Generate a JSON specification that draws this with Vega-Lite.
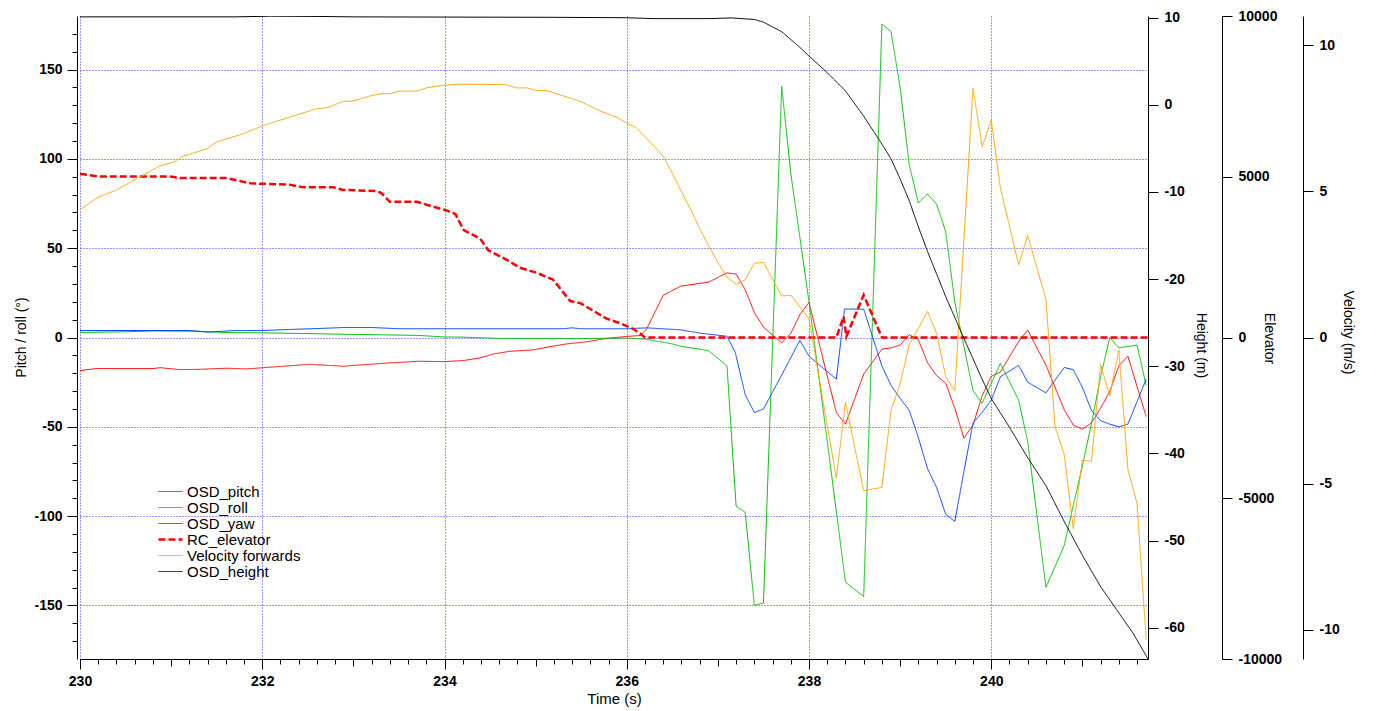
{
  "$schema": "https://vega.github.io/schema/vega-lite/v6.json",
  "width": 1068,
  "height": 643,
  "autosize": {"type": "none"},
  "padding": {"left": 80, "top": 16, "right": 229, "bottom": 52},
  "background": "white",
  "config": {
    "font": "Liberation Sans",
    "view": {"stroke": null},
    "axis": {
      "domainColor": "#000000", "tickColor": "#000000", "domainWidth": 1, "tickWidth": 1,
      "labelFont": "Liberation Sans", "labelFontSize": 14, "labelFontWeight": "bold", "labelColor": "#000000",
      "titleFont": "Liberation Sans", "titleFontSize": 14, "titleFontWeight": "normal", "titleColor": "#000000",
      "grid": false, "gridColor": "#3030ff", "gridDash": [1, 2], "gridWidth": 1
    }
  },
  "datasets": {
    "d": [
      {"t":230,"s":"OSD_pitch","v":-18.5},{"t":230.18,"s":"OSD_pitch","v":-17.4},{"t":230.8,"s":"OSD_pitch","v":-17.4},{"t":230.88,"s":"OSD_pitch","v":-16.9},{"t":231.1,"s":"OSD_pitch","v":-18},{"t":231.32,"s":"OSD_pitch","v":-17.8},{"t":231.61,"s":"OSD_pitch","v":-17.2},{"t":231.83,"s":"OSD_pitch","v":-17.6},{"t":232.01,"s":"OSD_pitch","v":-16.9},{"t":232.23,"s":"OSD_pitch","v":-16.1},{"t":232.52,"s":"OSD_pitch","v":-15},{"t":232.89,"s":"OSD_pitch","v":-16.1},{"t":233.18,"s":"OSD_pitch","v":-15},{"t":233.4,"s":"OSD_pitch","v":-14.2},{"t":233.73,"s":"OSD_pitch","v":-13.3},{"t":233.99,"s":"OSD_pitch","v":-13.5},{"t":234.21,"s":"OSD_pitch","v":-12.9},{"t":234.39,"s":"OSD_pitch","v":-11.4},{"t":234.54,"s":"OSD_pitch","v":-9.2},{"t":234.72,"s":"OSD_pitch","v":-7.7},{"t":234.98,"s":"OSD_pitch","v":-6.9},{"t":235.16,"s":"OSD_pitch","v":-5.1},{"t":235.34,"s":"OSD_pitch","v":-3.6},{"t":235.56,"s":"OSD_pitch","v":-2.4},{"t":235.75,"s":"OSD_pitch","v":-0.7},{"t":236,"s":"OSD_pitch","v":0.6},{"t":236.15,"s":"OSD_pitch","v":1.1},{"t":236.22,"s":"OSD_pitch","v":4.9},{"t":236.4,"s":"OSD_pitch","v":23.6},{"t":236.59,"s":"OSD_pitch","v":28.7},{"t":236.8,"s":"OSD_pitch","v":30.3},{"t":236.9,"s":"OSD_pitch","v":31},{"t":237.1,"s":"OSD_pitch","v":36.2},{"t":237.2,"s":"OSD_pitch","v":35.5},{"t":237.3,"s":"OSD_pitch","v":26.8},{"t":237.4,"s":"OSD_pitch","v":14},{"t":237.5,"s":"OSD_pitch","v":5.8},{"t":237.7,"s":"OSD_pitch","v":-3},{"t":237.8,"s":"OSD_pitch","v":2.3},{"t":237.9,"s":"OSD_pitch","v":12.8},{"t":238,"s":"OSD_pitch","v":19.6},{"t":238.3,"s":"OSD_pitch","v":-42},{"t":238.4,"s":"OSD_pitch","v":-48.5},{"t":238.6,"s":"OSD_pitch","v":-20.5},{"t":238.8,"s":"OSD_pitch","v":-6.5},{"t":238.9,"s":"OSD_pitch","v":-5.8},{"t":239,"s":"OSD_pitch","v":-4.2},{"t":239.1,"s":"OSD_pitch","v":1.6},{"t":239.2,"s":"OSD_pitch","v":-1.2},{"t":239.3,"s":"OSD_pitch","v":-14},{"t":239.4,"s":"OSD_pitch","v":-21.4},{"t":239.5,"s":"OSD_pitch","v":-25.6},{"t":239.6,"s":"OSD_pitch","v":-39.6},{"t":239.7,"s":"OSD_pitch","v":-56.4},{"t":239.8,"s":"OSD_pitch","v":-49},{"t":239.9,"s":"OSD_pitch","v":-32.6},{"t":240,"s":"OSD_pitch","v":-21.7},{"t":240.1,"s":"OSD_pitch","v":-19.3},{"t":240.3,"s":"OSD_pitch","v":-2.3},{"t":240.4,"s":"OSD_pitch","v":4.2},{"t":240.6,"s":"OSD_pitch","v":-15.5},{"t":240.8,"s":"OSD_pitch","v":-40.3},{"t":240.9,"s":"OSD_pitch","v":-49},{"t":241,"s":"OSD_pitch","v":-51.3},{"t":241.1,"s":"OSD_pitch","v":-47.8},{"t":241.2,"s":"OSD_pitch","v":-39.6},{"t":241.3,"s":"OSD_pitch","v":-30.3},{"t":241.4,"s":"OSD_pitch","v":-15.9},{"t":241.5,"s":"OSD_pitch","v":-10.5},{"t":241.7,"s":"OSD_pitch","v":-44.3},

      {"t":230,"s":"OSD_roll","v":2.8},{"t":230.5,"s":"OSD_roll","v":3.2},{"t":230.8,"s":"OSD_roll","v":3.7},{"t":231.3,"s":"OSD_roll","v":3.5},{"t":231.6,"s":"OSD_roll","v":2.8},{"t":232,"s":"OSD_roll","v":2.6},{"t":232.5,"s":"OSD_roll","v":2.2},{"t":232.8,"s":"OSD_roll","v":1.9},{"t":233.3,"s":"OSD_roll","v":1.5},{"t":233.7,"s":"OSD_roll","v":1.2},{"t":234,"s":"OSD_roll","v":0.3},{"t":234.2,"s":"OSD_roll","v":0.2},{"t":234.6,"s":"OSD_roll","v":-0.5},{"t":235,"s":"OSD_roll","v":-0.6},{"t":235.5,"s":"OSD_roll","v":-0.6},{"t":236,"s":"OSD_roll","v":-0.3},{"t":236.2,"s":"OSD_roll","v":-0.9},{"t":236.5,"s":"OSD_roll","v":-3.6},{"t":236.6,"s":"OSD_roll","v":-5},{"t":236.8,"s":"OSD_roll","v":-6.5},{"t":236.9,"s":"OSD_roll","v":-7.5},{"t":237.1,"s":"OSD_roll","v":-15.9},{"t":237.2,"s":"OSD_roll","v":-94.4},{"t":237.3,"s":"OSD_roll","v":-97.9},{"t":237.4,"s":"OSD_roll","v":-149.9},{"t":237.5,"s":"OSD_roll","v":-148.7},{"t":237.7,"s":"OSD_roll","v":140.6},{"t":237.8,"s":"OSD_roll","v":92},{"t":238,"s":"OSD_roll","v":20},{"t":238.2,"s":"OSD_roll","v":-58},{"t":238.4,"s":"OSD_roll","v":-137},{"t":238.6,"s":"OSD_roll","v":-145},{"t":238.8,"s":"OSD_roll","v":175.5},{"t":238.9,"s":"OSD_roll","v":171.3},{"t":239,"s":"OSD_roll","v":139.9},{"t":239.1,"s":"OSD_roll","v":96.7},{"t":239.2,"s":"OSD_roll","v":75.3},{"t":239.3,"s":"OSD_roll","v":80.4},{"t":239.4,"s":"OSD_roll","v":74.6},{"t":239.5,"s":"OSD_roll","v":59.4},{"t":239.6,"s":"OSD_roll","v":19.8},{"t":239.8,"s":"OSD_roll","v":-29.8},{"t":239.9,"s":"OSD_roll","v":-36.8},{"t":240.1,"s":"OSD_roll","v":-14.5},{"t":240.3,"s":"OSD_roll","v":-35},{"t":240.4,"s":"OSD_roll","v":-58.3},{"t":240.6,"s":"OSD_roll","v":-139.9},{"t":240.8,"s":"OSD_roll","v":-116.6},{"t":240.9,"s":"OSD_roll","v":-94},{"t":241,"s":"OSD_roll","v":-72},{"t":241.1,"s":"OSD_roll","v":-48},{"t":241.2,"s":"OSD_roll","v":-22},{"t":241.3,"s":"OSD_roll","v":0},{"t":241.4,"s":"OSD_roll","v":-5.8},{"t":241.6,"s":"OSD_roll","v":-4.2},{"t":241.7,"s":"OSD_roll","v":-26.8},

      {"t":230,"s":"OSD_yaw","v":3.9},{"t":231.2,"s":"OSD_yaw","v":3.9},{"t":231.4,"s":"OSD_yaw","v":3},{"t":231.7,"s":"OSD_yaw","v":3.9},{"t":232,"s":"OSD_yaw","v":3.9},{"t":232.3,"s":"OSD_yaw","v":4.5},{"t":232.6,"s":"OSD_yaw","v":5},{"t":232.9,"s":"OSD_yaw","v":5.6},{"t":233.2,"s":"OSD_yaw","v":5.6},{"t":233.5,"s":"OSD_yaw","v":4.9},{"t":235.3,"s":"OSD_yaw","v":4.9},{"t":235.4,"s":"OSD_yaw","v":5.4},{"t":235.5,"s":"OSD_yaw","v":4.9},{"t":236,"s":"OSD_yaw","v":4.9},{"t":236.22,"s":"OSD_yaw","v":5.4},{"t":236.59,"s":"OSD_yaw","v":4.3},{"t":236.81,"s":"OSD_yaw","v":2.4},{"t":237.1,"s":"OSD_yaw","v":0.7},{"t":237.19,"s":"OSD_yaw","v":-8.2},{"t":237.3,"s":"OSD_yaw","v":-32},{"t":237.4,"s":"OSD_yaw","v":-42},{"t":237.5,"s":"OSD_yaw","v":-40},{"t":237.7,"s":"OSD_yaw","v":-21},{"t":237.9,"s":"OSD_yaw","v":-1.6},{"t":238,"s":"OSD_yaw","v":-10.5},{"t":238.3,"s":"OSD_yaw","v":-23.3},{"t":238.39,"s":"OSD_yaw","v":15.9},{"t":238.6,"s":"OSD_yaw","v":15.9},{"t":238.7,"s":"OSD_yaw","v":0},{"t":238.8,"s":"OSD_yaw","v":-16},{"t":238.9,"s":"OSD_yaw","v":-26.8},{"t":239,"s":"OSD_yaw","v":-34},{"t":239.1,"s":"OSD_yaw","v":-40.8},{"t":239.2,"s":"OSD_yaw","v":-56},{"t":239.3,"s":"OSD_yaw","v":-73.4},{"t":239.4,"s":"OSD_yaw","v":-83.9},{"t":239.5,"s":"OSD_yaw","v":-99},{"t":239.6,"s":"OSD_yaw","v":-103},{"t":239.7,"s":"OSD_yaw","v":-75},{"t":239.8,"s":"OSD_yaw","v":-47.8},{"t":239.9,"s":"OSD_yaw","v":-42},{"t":240,"s":"OSD_yaw","v":-35},{"t":240.1,"s":"OSD_yaw","v":-22},{"t":240.3,"s":"OSD_yaw","v":-15.6},{"t":240.4,"s":"OSD_yaw","v":-25},{"t":240.6,"s":"OSD_yaw","v":-31},{"t":240.8,"s":"OSD_yaw","v":-16.8},{"t":240.9,"s":"OSD_yaw","v":-18},{"t":241,"s":"OSD_yaw","v":-28},{"t":241.1,"s":"OSD_yaw","v":-40.8},{"t":241.2,"s":"OSD_yaw","v":-46.6},{"t":241.3,"s":"OSD_yaw","v":-48.5},{"t":241.4,"s":"OSD_yaw","v":-50},{"t":241.5,"s":"OSD_yaw","v":-48.5},{"t":241.7,"s":"OSD_yaw","v":-23.3},

      {"t":230,"s":"RC_elevator","v":5090},{"t":230.22,"s":"RC_elevator","v":5005},{"t":230.99,"s":"RC_elevator","v":5005},{"t":231.1,"s":"RC_elevator","v":4960},{"t":231.61,"s":"RC_elevator","v":4960},{"t":231.87,"s":"RC_elevator","v":4795},{"t":232.3,"s":"RC_elevator","v":4755},{"t":232.45,"s":"RC_elevator","v":4670},{"t":232.78,"s":"RC_elevator","v":4670},{"t":232.89,"s":"RC_elevator","v":4590},{"t":233.26,"s":"RC_elevator","v":4555},{"t":233.31,"s":"RC_elevator","v":4485},{"t":233.4,"s":"RC_elevator","v":4220},{"t":233.7,"s":"RC_elevator","v":4220},{"t":233.84,"s":"RC_elevator","v":4100},{"t":234.03,"s":"RC_elevator","v":3945},{"t":234.12,"s":"RC_elevator","v":3840},{"t":234.21,"s":"RC_elevator","v":3340},{"t":234.39,"s":"RC_elevator","v":3080},{"t":234.48,"s":"RC_elevator","v":2715},{"t":234.68,"s":"RC_elevator","v":2420},{"t":234.83,"s":"RC_elevator","v":2170},{"t":235.01,"s":"RC_elevator","v":2015},{"t":235.19,"s":"RC_elevator","v":1800},{"t":235.38,"s":"RC_elevator","v":1135},{"t":235.49,"s":"RC_elevator","v":1070},{"t":235.78,"s":"RC_elevator","v":585},{"t":235.94,"s":"RC_elevator","v":430},{"t":236.07,"s":"RC_elevator","v":270},{"t":236.15,"s":"RC_elevator","v":115},{"t":236.2,"s":"RC_elevator","v":0},{"t":238.3,"s":"RC_elevator","v":0},{"t":238.38,"s":"RC_elevator","v":650},{"t":238.41,"s":"RC_elevator","v":30},{"t":238.6,"s":"RC_elevator","v":1320},{"t":238.8,"s":"RC_elevator","v":0},{"t":241.72,"s":"RC_elevator","v":0},

      {"t":230,"s":"Velocity forwards","v":4.36},{"t":230.18,"s":"Velocity forwards","v":4.77},{"t":230.4,"s":"Velocity forwards","v":5.05},{"t":230.62,"s":"Velocity forwards","v":5.43},{"t":230.88,"s":"Velocity forwards","v":5.88},{"t":231.02,"s":"Velocity forwards","v":5.99},{"t":231.13,"s":"Velocity forwards","v":6.2},{"t":231.39,"s":"Velocity forwards","v":6.45},{"t":231.5,"s":"Velocity forwards","v":6.69},{"t":231.79,"s":"Velocity forwards","v":6.97},{"t":232.01,"s":"Velocity forwards","v":7.25},{"t":232.3,"s":"Velocity forwards","v":7.54},{"t":232.6,"s":"Velocity forwards","v":7.83},{"t":232.71,"s":"Velocity forwards","v":7.86},{"t":232.89,"s":"Velocity forwards","v":8.08},{"t":233,"s":"Velocity forwards","v":8.09},{"t":233.18,"s":"Velocity forwards","v":8.26},{"t":233.29,"s":"Velocity forwards","v":8.34},{"t":233.4,"s":"Velocity forwards","v":8.34},{"t":233.51,"s":"Velocity forwards","v":8.43},{"t":233.7,"s":"Velocity forwards","v":8.43},{"t":233.81,"s":"Velocity forwards","v":8.55},{"t":233.99,"s":"Velocity forwards","v":8.63},{"t":234.17,"s":"Velocity forwards","v":8.67},{"t":234.68,"s":"Velocity forwards","v":8.65},{"t":234.79,"s":"Velocity forwards","v":8.54},{"t":234.9,"s":"Velocity forwards","v":8.54},{"t":235.01,"s":"Velocity forwards","v":8.45},{"t":235.12,"s":"Velocity forwards","v":8.45},{"t":235.49,"s":"Velocity forwards","v":8.08},{"t":235.7,"s":"Velocity forwards","v":7.76},{"t":235.9,"s":"Velocity forwards","v":7.52},{"t":236,"s":"Velocity forwards","v":7.33},{"t":236.1,"s":"Velocity forwards","v":7.19},{"t":236.3,"s":"Velocity forwards","v":6.55},{"t":236.4,"s":"Velocity forwards","v":6.2},{"t":236.5,"s":"Velocity forwards","v":5.62},{"t":236.6,"s":"Velocity forwards","v":4.99},{"t":236.7,"s":"Velocity forwards","v":4.39},{"t":236.8,"s":"Velocity forwards","v":3.73},{"t":236.9,"s":"Velocity forwards","v":3.13},{"t":237,"s":"Velocity forwards","v":2.57},{"t":237.1,"s":"Velocity forwards","v":2.07},{"t":237.2,"s":"Velocity forwards","v":1.82},{"t":237.3,"s":"Velocity forwards","v":1.98},{"t":237.4,"s":"Velocity forwards","v":2.54},{"t":237.5,"s":"Velocity forwards","v":2.57},{"t":237.7,"s":"Velocity forwards","v":1.42},{"t":237.8,"s":"Velocity forwards","v":1.45},{"t":238,"s":"Velocity forwards","v":0.64},{"t":238.3,"s":"Velocity forwards","v":-4.82},{"t":238.4,"s":"Velocity forwards","v":-2.21},{"t":238.6,"s":"Velocity forwards","v":-5.24},{"t":238.8,"s":"Velocity forwards","v":-5.13},{"t":238.9,"s":"Velocity forwards","v":-2.49},{"t":239,"s":"Velocity forwards","v":-1.59},{"t":239.1,"s":"Velocity forwards","v":-0.24},{"t":239.2,"s":"Velocity forwards","v":0.31},{"t":239.3,"s":"Velocity forwards","v":0.89},{"t":239.4,"s":"Velocity forwards","v":0.15},{"t":239.5,"s":"Velocity forwards","v":-1.34},{"t":239.6,"s":"Velocity forwards","v":-1.82},{"t":239.8,"s":"Velocity forwards","v":8.52},{"t":239.9,"s":"Velocity forwards","v":6.53},{"t":240,"s":"Velocity forwards","v":7.44},{"t":240.1,"s":"Velocity forwards","v":5.13},{"t":240.3,"s":"Velocity forwards","v":2.49},{"t":240.4,"s":"Velocity forwards","v":3.49},{"t":240.6,"s":"Velocity forwards","v":1.31},{"t":240.7,"s":"Velocity forwards","v":-3.06},{"t":240.8,"s":"Velocity forwards","v":-3.99},{"t":240.9,"s":"Velocity forwards","v":-6.54},{"t":241,"s":"Velocity forwards","v":-4.2},{"t":241.1,"s":"Velocity forwards","v":-4.23},{"t":241.2,"s":"Velocity forwards","v":-0.93},{"t":241.3,"s":"Velocity forwards","v":-1.99},{"t":241.4,"s":"Velocity forwards","v":-0.43},{"t":241.5,"s":"Velocity forwards","v":-4.52},{"t":241.6,"s":"Velocity forwards","v":-5.68},{"t":241.7,"s":"Velocity forwards","v":-10.33},

      {"t":230,"s":"OSD_height","v":10.1},{"t":231.7,"s":"OSD_height","v":10.1},{"t":232.1,"s":"OSD_height","v":10.18},{"t":232.6,"s":"OSD_height","v":10.15},{"t":233,"s":"OSD_height","v":10.1},{"t":235.2,"s":"OSD_height","v":10.05},{"t":236,"s":"OSD_height","v":10},{"t":236.3,"s":"OSD_height","v":9.9},{"t":236.9,"s":"OSD_height","v":9.9},{"t":237.15,"s":"OSD_height","v":9.98},{"t":237.4,"s":"OSD_height","v":9.8},{"t":237.5,"s":"OSD_height","v":9.5},{"t":237.7,"s":"OSD_height","v":8.4},{"t":237.9,"s":"OSD_height","v":6.6},{"t":238,"s":"OSD_height","v":5.6},{"t":238.2,"s":"OSD_height","v":3.7},{"t":238.4,"s":"OSD_height","v":1.6},{"t":238.6,"s":"OSD_height","v":-1.3},{"t":238.8,"s":"OSD_height","v":-4.5},{"t":238.9,"s":"OSD_height","v":-6.2},{"t":239,"s":"OSD_height","v":-8.5},{"t":239.1,"s":"OSD_height","v":-11},{"t":239.2,"s":"OSD_height","v":-14},{"t":239.3,"s":"OSD_height","v":-16.8},{"t":239.5,"s":"OSD_height","v":-22},{"t":239.7,"s":"OSD_height","v":-26.8},{"t":239.9,"s":"OSD_height","v":-31.5},{"t":240,"s":"OSD_height","v":-33.7},{"t":240.2,"s":"OSD_height","v":-37},{"t":240.4,"s":"OSD_height","v":-40.5},{"t":240.6,"s":"OSD_height","v":-43.7},{"t":240.8,"s":"OSD_height","v":-47.8},{"t":241,"s":"OSD_height","v":-51.7},{"t":241.2,"s":"OSD_height","v":-55.3},{"t":241.4,"s":"OSD_height","v":-58.3},{"t":241.56,"s":"OSD_height","v":-60.7},{"t":241.72,"s":"OSD_height","v":-63.6}
    ]
  },
  "data": {"name": "d"},
  "encoding": {
    "x": {
      "field": "t", "type": "quantitative",
      "scale": {"domain": [230, 241.72], "nice": false, "zero": false},
      "axis": {
        "title": "Time (s)",
        "values": [230,230.2,230.4,230.6,230.8,231,231.2,231.4,231.6,231.8,232,232.2,232.4,232.6,232.8,233,233.2,233.4,233.6,233.8,234,234.2,234.4,234.6,234.8,235,235.2,235.4,235.6,235.8,236,236.2,236.4,236.6,236.8,237,237.2,237.4,237.6,237.8,238,238.2,238.4,238.6,238.8,239,239.2,239.4,239.6,239.8,240,240.2,240.4,240.6,240.8,241,241.2,241.4,241.6],
        "labelExpr": "round(datum.value*10)%20==0 ? '' + datum.value : ''",
        "tickSize": {"condition": [{"test": "round(datum.value*10)%20==0", "value": 10}, {"test": "round(datum.value*10)%10==0", "value": 7}], "value": 5},
        "grid": true,
        "gridOpacity": {"condition": {"test": "round(datum.value*10)%20==0", "value": 1}, "value": 0},
        "labelPadding": 5, "titlePadding": 3, "titleFontSize": 15, "labelFlush": false, "labelOverlap": false
      }
    },
    "color": {
      "field": "s", "type": "nominal",
      "scale": {"domain": ["OSD_pitch","OSD_roll","OSD_yaw","RC_elevator","Velocity forwards","OSD_height"], "range": ["#ff0000","#00c000","#0040ff","#ff0000","#ffa500","#000000"]},
      "legend": {
        "orient": "none", "legendX": 83, "legendY": 468, "title": null, "symbolType": "stroke", "symbolSize": 576,
        "labelFontSize": 15, "labelFont": "Liberation Sans", "labelColor": "#000000", "labelOffset": 9, "rowPadding": -4, "padding": 0,
        "encode": {"symbols": {"update": {"strokeWidth": {"signal": "datum.value === 'RC_elevator' ? 2.5 : 1"}}}}
      }
    },
    "strokeDash": {
      "field": "s", "type": "nominal",
      "scale": {"domain": ["OSD_pitch","OSD_roll","OSD_yaw","RC_elevator","Velocity forwards","OSD_height"], "range": [[1,0],[1,0],[1,0],[7,3],[1,0],[1,0]]},
      "legend": {
        "orient": "none", "legendX": 83, "legendY": 468, "title": null, "symbolType": "stroke", "symbolSize": 576,
        "labelFontSize": 15, "labelFont": "Liberation Sans", "labelColor": "#000000", "labelOffset": 9, "rowPadding": -4, "padding": 0,
        "encode": {"symbols": {"update": {"strokeWidth": {"signal": "datum.value === 'RC_elevator' ? 2.5 : 1"}}}}
      }
    }
  },
  "layer": [
    {
      "transform": [{"filter": "datum.s == 'OSD_pitch' || datum.s == 'OSD_roll' || datum.s == 'OSD_yaw'"}],
      "mark": {"type": "line", "clip": true, "strokeWidth": 1},
      "encoding": {
        "y": {
          "field": "v", "type": "quantitative",
          "scale": {"domain": [-180, 180], "nice": false, "zero": false},
          "axis": {
            "orient": "left", "offset": 3, "title": "Pitch / roll (°)",
            "values": [-170,-160,-150,-140,-130,-120,-110,-100,-90,-80,-70,-60,-50,-40,-30,-20,-10,0,10,20,30,40,50,60,70,80,90,100,110,120,130,140,150,160,170],
            "labelExpr": "datum.value % 50 == 0 ? '' + datum.value : ''",
            "tickSize": {"condition": {"test": "datum.value % 50 == 0", "value": 10}, "value": 5},
            "grid": true,
            "gridOpacity": {"condition": {"test": "datum.value % 50 == 0", "value": 1}, "value": 0},
            "labelPadding": 5, "labelOverlap": false, "labelFlush": false,
            "titleX": -56, "titleY": 321, "titleAngle": -90, "titleBaseline": "middle", "titleAlign": "center"
          }
        }
      }
    },
    {
      "transform": [{"filter": "datum.s == 'RC_elevator'"}],
      "mark": {"type": "line", "clip": true, "strokeWidth": 2.5},
      "encoding": {
        "y": {
          "field": "v", "type": "quantitative",
          "scale": {"domain": [-10000, 10000], "nice": false, "zero": false},
          "axis": {
            "orient": "right", "offset": 74, "title": "Elevator",
            "values": [10000, 5000, 0, -5000, -10000],
            "labelExpr": "datum.value < 0 ? '' + datum.value : '\u00a0' + datum.value",
            "tickSize": 10, "labelPadding": 6, "labelOverlap": false, "labelFlush": false, "grid": false,
            "titleX": 46, "titleY": 322, "titleAngle": 90, "titleBaseline": "middle", "titleAlign": "center"
          }
        }
      }
    },
    {
      "transform": [{"filter": "datum.s == 'Velocity forwards'"}],
      "mark": {"type": "line", "clip": true, "strokeWidth": 1},
      "encoding": {
        "y": {
          "field": "v", "type": "quantitative",
          "scale": {"domain": [-11, 11], "nice": false, "zero": false},
          "axis": {
            "orient": "right", "offset": 155, "title": "Velocity (m/s)",
            "values": [10, 5, 0, -5, -10],
            "labelExpr": "datum.value < 0 ? '' + datum.value : '\u00a0' + datum.value",
            "tickSize": 10, "labelPadding": 6, "labelOverlap": false, "labelFlush": false, "grid": false,
            "titleX": 44, "titleY": 316, "titleAngle": 90, "titleBaseline": "middle", "titleAlign": "center"
          }
        }
      }
    },
    {
      "transform": [{"filter": "datum.s == 'OSD_height'"}],
      "mark": {"type": "line", "clip": true, "strokeWidth": 1},
      "encoding": {
        "y": {
          "field": "v", "type": "quantitative",
          "scale": {"domain": [-63.6, 10.2], "nice": false, "zero": false},
          "axis": {
            "orient": "right", "offset": 0, "title": "Height (m)",
            "values": [10, 0, -10, -20, -30, -40, -50, -60],
            "labelExpr": "datum.value < 0 ? '' + datum.value : '\u00a0' + datum.value",
            "tickSize": 10, "labelPadding": 6, "labelOverlap": false, "labelFlush": false, "grid": false,
            "titleX": 52, "titleY": 329, "titleAngle": 90, "titleBaseline": "middle", "titleAlign": "center"
          }
        }
      }
    }
  ],
  "resolve": {"scale": {"y": "independent"}, "axis": {"y": "independent"}}
}
